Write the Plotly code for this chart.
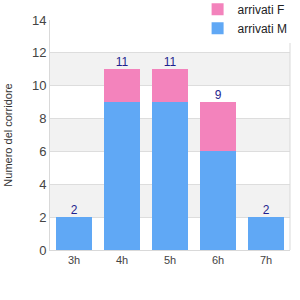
import plotly.graph_objects as go

categories = ["3h", "4h", "5h", "6h", "7h"]
arrivati_M = [2, 9, 9, 6, 2]
arrivati_F = [0, 2, 2, 3, 0]
totals = [m + f for m, f in zip(arrivati_M, arrivati_F)]
y_ticks = [0, 2, 4, 6, 8, 10, 12, 14]

blue = "#60A8F5"
pink = "#F383BC"

fig = go.Figure()
fig.add_trace(go.Bar(x=categories, y=arrivati_M, name="arrivati M",
                     marker=dict(color=blue, line=dict(width=0))))
fig.add_trace(go.Bar(x=categories, y=arrivati_F, name="arrivati F",
                     marker=dict(color=pink, line=dict(width=0))))
fig.add_trace(go.Scatter(x=categories, y=totals, mode="text",
                         text=[str(t) for t in totals], textposition="top center",
                         textfont=dict(color="#1F1F8F", size=12),
                         showlegend=False, hoverinfo="skip"))

shapes = []
for i in range(len(y_ticks) - 1):
    if i % 2 == 1:
        shapes.append(dict(type="rect", xref="paper", yref="y", x0=0, x1=1,
                           y0=y_ticks[i], y1=y_ticks[i + 1],
                           fillcolor="#F2F2F2", line=dict(width=0), layer="below"))
shapes.append(dict(type="line", xref="paper", yref="paper", x0=1, x1=1, y0=0, y1=1,
                   line=dict(color="#D9D9D9", width=1)))

fig.update_layout(
    width=300, height=300,
    margin=dict(l=50, r=10, t=20, b=50, autoexpand=False),
    barmode="stack", bargap=0.27,
    paper_bgcolor="white", plot_bgcolor="white",
    font=dict(family="Liberation Sans, Arial", size=11, color="#444444"),
    shapes=shapes,
    showlegend=True,
    legend=dict(x=0.615, y=1.11, xanchor="left", yanchor="top",
                traceorder="reversed", bgcolor="white",
                font=dict(size=12, color="#222222"), itemwidth=30,
                tracegroupgap=0),
    xaxis=dict(showgrid=False, showline=True, linecolor="#D9D9D9",
               ticks="", tickfont=dict(size=11, color="#444444")),
    yaxis=dict(range=[0, 14], tickvals=y_ticks, showgrid=True, gridcolor="#DDDDDD",
               showline=True, linecolor="#D9D9D9", zeroline=False, ticks="",
               title=dict(text="Numero del corridore", font=dict(size=11, color="#333333"),
                          standoff=17),
               tickfont=dict(size=13, color="#444444")),
)

fig.write_html("out.html")
